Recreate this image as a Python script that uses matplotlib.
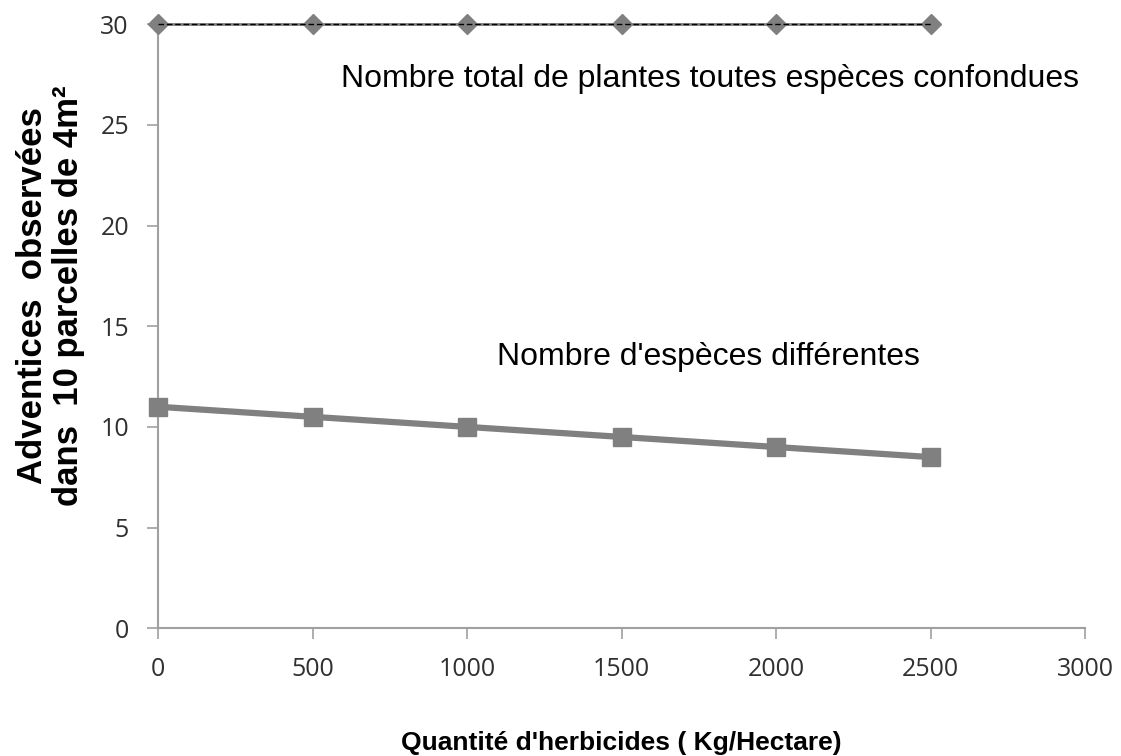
import matplotlib.pyplot as plt

# Données
herbicides = [0, 500, 1000, 1500, 2000, 2500]
total_plantes = [30, 30, 30, 30, 30, 30]
nb_especes = [11, 10.5, 10, 9.5, 9, 8.5]

x_ticks = [0, 500, 1000, 1500, 2000, 2500, 3000]
y_ticks = [0, 5, 10, 15, 20, 25, 30]

gris = "#808080"
axe = "#a0a0a0"

fig = plt.figure(figsize=(11.21, 7.56), dpi=100)
ax = fig.add_axes([0.141, 0.169, 0.827, 0.799])

# --- Série 1 : total des plantes (ligne grise + tirets noirs, losanges) ---
ax.plot(herbicides, total_plantes, color=gris, lw=2, marker="D", ms=10,
        markerfacecolor=gris, markeredgecolor=gris, clip_on=False, zorder=3)
ax.plot(herbicides, total_plantes, color="black", lw=1, ls=(0, (4, 2)),
        clip_on=False, zorder=4)

# --- Série 2 : nombre d'espèces (carrés) ---
ax.plot(herbicides, nb_especes, color=gris, lw=4.5, marker="s", ms=13,
        markerfacecolor=gris, markeredgecolor=gris, clip_on=False, zorder=3)

ax.text(592, 27.3, "Nombre total de plantes toutes espèces confondues",
        fontsize=23, family="Liberation Sans", ha="left", va="center")
ax.text(1097, 13.46, "Nombre d'espèces différentes",
        fontsize=23, family="Liberation Sans", ha="left", va="center")

ax.set_xlim(0, 3000)
ax.set_ylim(0, 30)
ax.set_xticks(x_ticks)
ax.set_yticks(y_ticks)

for s in ["top", "right"]:
    ax.spines[s].set_visible(False)
for s in ["left", "bottom"]:
    ax.spines[s].set_color(axe)
    ax.spines[s].set_linewidth(1.5)

ax.tick_params(axis="both", direction="out", length=8, width=1.2, color=axe,
               labelsize=18, pad=13)
for lab in ax.get_xticklabels() + ax.get_yticklabels():
    lab.set_family("Open Sans")
    lab.set_color("#303030")

ax.set_ylabel("Adventices  observées\ndans  10 parcelles de 4m²", fontsize=25,
              fontweight="bold", family="Liberation Sans", linespacing=1.1)
ax.yaxis.set_label_coords(-0.079, 0.55)
ax.set_xlabel("Quantité d'herbicides ( Kg/Hectare)", fontsize=19,
              fontweight="bold", family="Liberation Sans", labelpad=35)

plt.savefig("out.png", dpi=100)
